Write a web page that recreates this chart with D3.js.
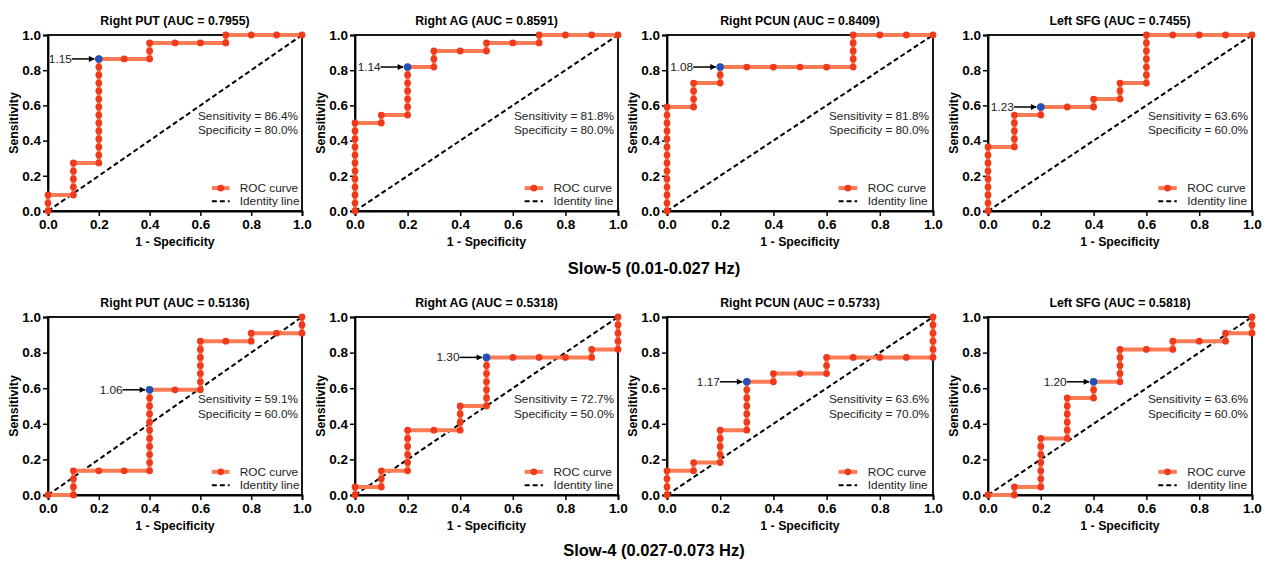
<!DOCTYPE html>
<html>
<head>
<meta charset="utf-8">
<script src="https://cdn.jsdelivr.net/npm/d3@7"></script>
<style>
  body { margin: 0; background: #fff; }
  text { font-family: Arial, 'Liberation Sans', sans-serif; }
</style>
</head>
<body>
<svg width="1267" height="562"></svg>
<script>
// ---- data ----
const regions = ['Right PUT', 'Right AG', 'Right PCUN', 'Left SFG'];
const bands = ['Slow-5 (0.01-0.027 Hz)', 'Slow-4 (0.027-0.073 Hz)'];
const aucSlow5 = ['0.7955', '0.8591', '0.8409', '0.7455'];
const aucSlow4 = ['0.5136', '0.5318', '0.5733', '0.5818'];
const cutoffSlow5 = ['1.15', '1.14', '1.08', '1.23'];
const cutoffSlow4 = ['1.06', '1.30', '1.17', '1.20'];
const cutoffPtSlow5 = [[0.2, 0.864], [0.2, 0.818], [0.2, 0.818], [0.2, 0.591]];
const cutoffPtSlow4 = [[0.4, 0.591], [0.5, 0.773], [0.3, 0.636], [0.4, 0.636]];
const sensSlow5 = ['86.4%', '81.8%', '81.8%', '63.6%'];
const specSlow5 = ['80.0%', '80.0%', '80.0%', '60.0%'];
const sensSlow4 = ['59.1%', '72.7%', '63.6%', '63.6%'];
const specSlow4 = ['60.0%', '50.0%', '70.0%', '60.0%'];
const tickValues = [0, 0.2, 0.4, 0.6, 0.8, 1.0];

// ROC points [1 - specificity, sensitivity]
const rocPutSlow5 = [[0,0],[0,0.045],[0,0.091],[0.1,0.091],[0.1,0.136],[0.1,0.182],[0.1,0.227],[0.1,0.273],
  [0.2,0.273],[0.2,0.318],[0.2,0.364],[0.2,0.409],[0.2,0.455],[0.2,0.5],[0.2,0.545],[0.2,0.591],[0.2,0.636],
  [0.2,0.682],[0.2,0.727],[0.2,0.773],[0.2,0.818],[0.2,0.864],[0.3,0.864],[0.4,0.864],[0.4,0.909],[0.4,0.955],
  [0.5,0.955],[0.6,0.955],[0.7,0.955],[0.7,1],[0.8,1],[0.9,1],[1,1]];
const rocAgSlow5 = [[0,0],[0,0.045],[0,0.091],[0,0.136],[0,0.182],[0,0.227],[0,0.273],[0,0.318],[0,0.364],
  [0,0.409],[0,0.455],[0,0.5],[0.1,0.5],[0.1,0.545],[0.2,0.545],[0.2,0.591],[0.2,0.636],[0.2,0.682],[0.2,0.727],
  [0.2,0.773],[0.2,0.818],[0.3,0.818],[0.3,0.864],[0.3,0.909],[0.4,0.909],[0.5,0.909],[0.5,0.955],[0.6,0.955],
  [0.7,0.955],[0.7,1],[0.8,1],[0.9,1],[1,1]];
const rocPcunSlow5 = [[0,0],[0,0.045],[0,0.091],[0,0.136],[0,0.182],[0,0.227],[0,0.273],[0,0.318],[0,0.364],
  [0,0.409],[0,0.455],[0,0.5],[0,0.545],[0,0.591],[0.1,0.591],[0.1,0.636],[0.1,0.682],[0.1,0.727],[0.2,0.727],
  [0.2,0.773],[0.2,0.818],[0.3,0.818],[0.4,0.818],[0.5,0.818],[0.6,0.818],[0.7,0.818],[0.7,0.864],[0.7,0.909],
  [0.7,0.955],[0.7,1],[0.8,1],[0.9,1],[1,1]];
const rocSfgSlow5 = [[0,0],[0,0.045],[0,0.091],[0,0.136],[0,0.182],[0,0.227],[0,0.273],[0,0.318],[0,0.364],
  [0.1,0.364],[0.1,0.409],[0.1,0.455],[0.1,0.5],[0.1,0.545],[0.2,0.545],[0.2,0.591],[0.3,0.591],[0.4,0.591],
  [0.4,0.636],[0.5,0.636],[0.5,0.682],[0.5,0.727],[0.6,0.727],[0.6,0.773],[0.6,0.818],[0.6,0.864],[0.6,0.909],
  [0.6,0.955],[0.6,1],[0.7,1],[0.8,1],[0.9,1],[1,1]];
const rocPutSlow4 = [[0,0],[0.1,0],[0.1,0.045],[0.1,0.091],[0.1,0.136],[0.2,0.136],[0.3,0.136],[0.4,0.136],
  [0.4,0.182],[0.4,0.227],[0.4,0.273],[0.4,0.318],[0.4,0.364],[0.4,0.409],[0.4,0.455],[0.4,0.5],[0.4,0.545],
  [0.4,0.591],[0.5,0.591],[0.6,0.591],[0.6,0.636],[0.6,0.682],[0.6,0.727],[0.6,0.773],[0.6,0.818],[0.6,0.864],
  [0.7,0.864],[0.8,0.864],[0.8,0.909],[0.9,0.909],[1,0.909],[1,0.955],[1,1]];
const rocAgSlow4 = [[0,0],[0,0.045],[0.1,0.045],[0.1,0.091],[0.1,0.136],[0.2,0.136],[0.2,0.182],[0.2,0.227],
  [0.2,0.273],[0.2,0.318],[0.2,0.364],[0.3,0.364],[0.4,0.364],[0.4,0.409],[0.4,0.455],[0.4,0.5],[0.5,0.5],
  [0.5,0.545],[0.5,0.591],[0.5,0.636],[0.5,0.682],[0.5,0.727],[0.5,0.773],[0.6,0.773],[0.7,0.773],[0.8,0.773],
  [0.9,0.773],[0.9,0.818],[1,0.818],[1,0.864],[1,0.909],[1,0.955],[1,1]];
const rocPcunSlow4 = [[0,0],[0,0.045],[0,0.091],[0,0.136],[0.1,0.136],[0.1,0.182],[0.2,0.182],[0.2,0.227],
  [0.2,0.273],[0.2,0.318],[0.2,0.364],[0.3,0.364],[0.3,0.409],[0.3,0.455],[0.3,0.5],[0.3,0.545],[0.3,0.591],
  [0.3,0.636],[0.4,0.636],[0.4,0.682],[0.5,0.682],[0.6,0.682],[0.6,0.727],[0.6,0.773],[0.7,0.773],[0.8,0.773],
  [0.9,0.773],[1,0.773],[1,0.818],[1,0.864],[1,0.909],[1,0.955],[1,1]];
const rocSfgSlow4 = [[0,0],[0.1,0],[0.1,0.045],[0.2,0.045],[0.2,0.091],[0.2,0.136],[0.2,0.182],[0.2,0.227],
  [0.2,0.273],[0.2,0.318],[0.3,0.318],[0.3,0.364],[0.3,0.409],[0.3,0.455],[0.3,0.5],[0.3,0.545],[0.4,0.545],
  [0.4,0.591],[0.4,0.636],[0.5,0.636],[0.5,0.682],[0.5,0.727],[0.5,0.773],[0.5,0.818],[0.6,0.818],[0.7,0.818],
  [0.7,0.864],[0.8,0.864],[0.9,0.864],[0.9,0.909],[1,0.909],[1,0.955],[1,1]];

const rocSlow5 = [rocPutSlow5, rocAgSlow5, rocPcunSlow5, rocSfgSlow5];
const rocSlow4 = [rocPutSlow4, rocAgSlow4, rocPcunSlow4, rocSfgSlow4];

// ---- layout ----
const svg = d3.select('svg');
const colLeft = [48, 355, 667, 988];
const colRight = [302, 618, 933, 1252];
const rowTop = [35, 317];
const rowBottom = [211, 495];
const bandY = [274, 556];

const lineColor = '#fb7b55';
const dotColor = '#f03a1c';
const cutColor = '#2451b8';

const defs = svg.append('defs');
defs.append('marker')
    .attr('id', 'arrow')
    .attr('viewBox', '0 0 10 10')
    .attr('refX', 9).attr('refY', 5)
    .attr('markerWidth', 7).attr('markerHeight', 6)
    .attr('markerUnits', 'userSpaceOnUse')
    .attr('orient', 'auto')
    .append('path')
    .attr('d', 'M0,0 L10,5 L0,10 z')
    .attr('fill', '#000');

const rows = [
    {auc: aucSlow5, cut: cutoffSlow5, pt: cutoffPtSlow5, sens: sensSlow5, spec: specSlow5, roc: rocSlow5},
    {auc: aucSlow4, cut: cutoffSlow4, pt: cutoffPtSlow4, sens: sensSlow4, spec: specSlow4, roc: rocSlow4}
];

rows.forEach(function (row, r) {
    regions.forEach(function (name, c) {
        drawPanel(r, c, name, row);
    });
    svg.append('text')
        .attr('x', 654).attr('y', bandY[r])
        .attr('text-anchor', 'middle')
        .attr('font-size', 16.5).attr('font-weight', 'bold')
        .text(bands[r]);
});

function drawPanel(r, c, name, row) {
    const x = d3.scaleLinear().domain([0, 1]).range([colLeft[c], colRight[c]]);
    const y = d3.scaleLinear().domain([0, 1]).range([rowBottom[r], rowTop[r]]);
    const g = svg.append('g');
    const fmt = d3.format('.1f');

    // frame
    g.append('rect')
        .attr('x', x(0)).attr('y', y(1))
        .attr('width', x(1) - x(0)).attr('height', y(0) - y(1))
        .attr('fill', 'none').attr('stroke', '#000').attr('stroke-width', 1.8);

    const xa = g.append('g')
        .attr('transform', `translate(0,${y(0)})`)
        .call(d3.axisBottom(x).tickValues(tickValues).tickFormat(fmt).tickSize(5).tickPadding(3));
    const ya = g.append('g')
        .attr('transform', `translate(${x(0)},0)`)
        .call(d3.axisLeft(y).tickValues(tickValues).tickFormat(fmt).tickSize(5).tickPadding(2));
    [xa, ya].forEach(function (a) {
        a.select('.domain').attr('stroke-width', 1.8);
        a.selectAll('.tick line').attr('stroke-width', 1.5);
        a.selectAll('text')
            .attr('font-size', 13.5).attr('font-weight', 'bold').attr('fill', '#000')
            .style('font-family', "Arial, 'Liberation Sans', sans-serif");
    });

    // titles
    g.append('text')
        .attr('x', (x(0) + x(1)) / 2).attr('y', y(1) - 10)
        .attr('text-anchor', 'middle')
        .attr('font-size', 12.3).attr('font-weight', 'bold')
        .text(`${name} (AUC = ${row.auc[c]})`);
    g.append('text')
        .attr('x', (x(0) + x(1)) / 2).attr('y', y(0) + 35)
        .attr('text-anchor', 'middle')
        .attr('font-size', 12.3).attr('font-weight', 'bold')
        .text('1 - Specificity');
    g.append('text')
        .attr('transform', `translate(${x(0) - 30},${(y(0) + y(1)) / 2}) rotate(-90)`)
        .attr('text-anchor', 'middle')
        .attr('font-size', 12.3).attr('font-weight', 'bold')
        .text('Sensitivity');

    // identity line
    g.append('line')
        .attr('x1', x(0)).attr('y1', y(0))
        .attr('x2', x(1)).attr('y2', y(1))
        .attr('stroke', '#000').attr('stroke-width', 2)
        .attr('stroke-dasharray', '5,3');

    // ROC curve
    const pts = row.roc[c];
    g.append('path')
        .datum(pts)
        .attr('fill', 'none')
        .attr('stroke', lineColor).attr('stroke-width', 4)
        .attr('d', d3.line().x(d => x(d[0])).y(d => y(d[1])));
    g.selectAll('circle.pt')
        .data(pts)
        .enter().append('circle')
        .attr('class', 'pt')
        .attr('cx', d => x(d[0])).attr('cy', d => y(d[1]))
        .attr('r', 3.4)
        .attr('fill', dotColor);

    // cutoff marker + arrow
    const cp = row.pt[c];
    const cx = x(cp[0]), cy = y(cp[1]);
    g.append('circle')
        .attr('cx', cx).attr('cy', cy).attr('r', 3.8)
        .attr('fill', cutColor);
    g.append('line')
        .attr('x1', cx - 27).attr('y1', cy)
        .attr('x2', cx - 4.5).attr('y2', cy)
        .attr('stroke', '#000').attr('stroke-width', 1.5)
        .attr('marker-end', 'url(#arrow)');
    g.append('text')
        .attr('x', cx - 27).attr('y', cy + 4)
        .attr('text-anchor', 'end')
        .attr('font-size', 11.8).attr('fill', '#222')
        .text(row.cut[c]);

    // sensitivity / specificity
    g.append('text')
        .attr('x', x(1) - 4).attr('y', y(0.515))
        .attr('text-anchor', 'end')
        .attr('font-size', 11.8).attr('fill', '#222')
        .text(`Sensitivity = ${row.sens[c]}`);
    g.append('text')
        .attr('x', x(1) - 4).attr('y', y(0.435))
        .attr('text-anchor', 'end')
        .attr('font-size', 11.8).attr('fill', '#222')
        .text(`Specificity = ${row.spec[c]}`);

    // legend
    const ly1 = y(0.13), ly2 = y(0.055);
    g.append('line')
        .attr('x1', x(0.645)).attr('x2', x(0.715))
        .attr('y1', ly1).attr('y2', ly1)
        .attr('stroke', lineColor).attr('stroke-width', 4);
    g.append('circle')
        .attr('cx', x(0.68)).attr('cy', ly1).attr('r', 3.4)
        .attr('fill', dotColor);
    g.append('line')
        .attr('x1', x(0.645)).attr('x2', x(0.715))
        .attr('y1', ly2).attr('y2', ly2)
        .attr('stroke', '#000').attr('stroke-width', 2)
        .attr('stroke-dasharray', '5,3');
    g.append('text')
        .attr('x', x(0.755)).attr('y', ly1 + 4)
        .attr('font-size', 11.8).attr('fill', '#222')
        .text('ROC curve');
    g.append('text')
        .attr('x', x(0.755)).attr('y', ly2 + 4)
        .attr('font-size', 11.8).attr('fill', '#222')
        .text('Identity line');
}
</script>
</body>
</html>
